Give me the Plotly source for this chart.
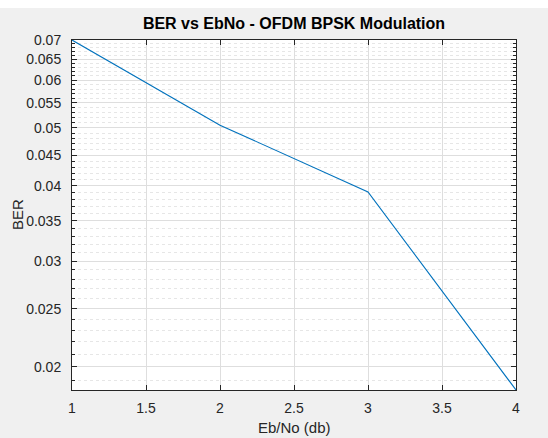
import math
import plotly.graph_objects as go

ebno = [1, 2, 3, 4]
ber = [0.07, 0.0505, 0.0391, 0.0183]
y_ticks = [0.02, 0.025, 0.03, 0.035, 0.04, 0.045, 0.05, 0.055, 0.06, 0.065, 0.07]
y_tick_labels = ["0.02", "0.025", "0.03", "0.035", "0.04", "0.045", "0.05", "0.055", "0.06", "0.065", "0.07"]
y_minor = [v / 1000 for v in range(18, 71)]
x_ticks = [1, 1.5, 2, 2.5, 3, 3.5, 4]
x_tick_labels = ["1", "1.5", "2", "2.5", "3", "3.5", "4"]

FONT = "Liberation Sans, Arial, sans-serif"
TXT = "#262626"

fig = go.Figure()
fig.add_trace(go.Scatter(x=ebno, y=ber, mode="lines",
                         line=dict(color="#0072BD", width=1.1), showlegend=False))

W, H = 548, 438
ml, mr, mt, mb = 72, 32, 40, 48
pw = W - ml - mr
ph = H - mt - mb

fig.update_layout(
    width=W, height=H,
    margin=dict(l=ml, r=mr, t=mt, b=mb, pad=0, autoexpand=False),
    paper_bgcolor="#f0f0f0",
    plot_bgcolor="#ffffff",
    font=dict(family=FONT, size=14, color=TXT),
    title=dict(text="<b>BER vs EbNo - OFDM BPSK Modulation</b>",
               x=(ml + pw / 2) / W, xanchor="center",
               y=1 - 23 / H, yanchor="middle", yref="container",
               font=dict(size=16, color="#000000", family=FONT)),
    xaxis=dict(
        range=[1, 4], tickmode="array", tickvals=x_ticks, ticktext=x_tick_labels,
        showline=True, linecolor=TXT, linewidth=1, mirror="ticks",
        ticks="inside", ticklen=5, tickcolor=TXT, automargin=False,
        showgrid=True, gridcolor="#dedede", gridwidth=1,
        zeroline=False, ticklabelstandoff=5,
    ),
    yaxis=dict(
        type="log", range=[math.log10(0.0183), math.log10(0.07)],
        tickmode="array", tickvals=y_ticks, ticktext=y_tick_labels,
        showline=True, linecolor=TXT, linewidth=1, mirror="ticks",
        ticks="inside", ticklen=5, tickcolor=TXT, automargin=False,
        showgrid=True, gridcolor="#dedede", gridwidth=1,
        zeroline=False, ticklabelstandoff=7,
        minor=dict(tickmode="array", tickvals=y_minor, ticks="inside", ticklen=3,
                   tickcolor=TXT, showgrid=True, gridcolor="#e6e6e6",
                   griddash="dot", gridwidth=1),
    ),
    annotations=[
        dict(text="Eb/No (db)", xref="paper", yref="paper",
             x=0.5, y=-(427 - (H - mb)) / ph, xanchor="center", yanchor="middle",
             showarrow=False, font=dict(size=15, color=TXT)),
        dict(text="BER", xref="paper", yref="paper",
             x=-(ml - 17) / pw, y=0.5, xanchor="center", yanchor="middle",
             textangle=-90, showarrow=False, font=dict(size=15, color=TXT)),
    ],
    shapes=[dict(type="rect", xref="paper", yref="paper",
                 x0=-ml / pw, x1=1 + mr / pw,
                 y0=1 + (mt - 8) / ph, y1=1 + mt / ph,
                 fillcolor="#ffffff", line=dict(width=0), layer="above")],
)

fig.write_html("out.html",
               config={"displayModeBar": False},
               post_script="document.body.style.margin='0';document.body.style.overflow='hidden';")
